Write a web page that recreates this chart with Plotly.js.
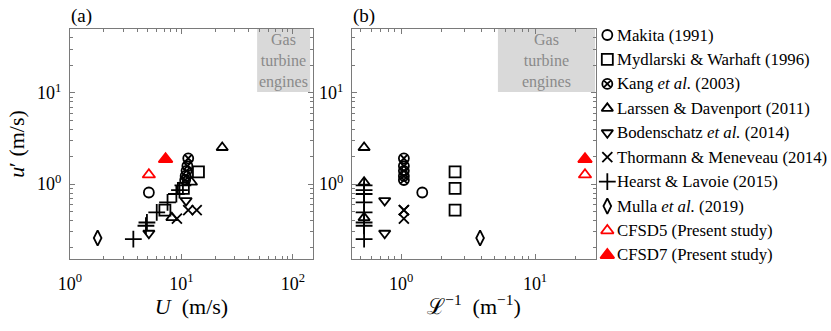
<!DOCTYPE html>
<html>
<head>
<meta charset="utf-8">
<script src="https://cdn.plot.ly/plotly-3.0.1.min.js"></script>
<style>
  html, body { margin: 0; padding: 0; background: #fff; }
  #chart { width: 831px; height: 331px; }
</style>
</head>
<body>
<div id="chart"></div>
<script>
// series labels, in legend order
const names = [
    "Makita (1991)",
    "Mydlarski &amp; Warhaft (1996)",
    "Kang <i>et al.</i> (2003)",
    "Larssen &amp; Davenport (2011)",
    "Bodenschatz <i>et al.</i> (2014)",
    "Thormann &amp; Meneveau (2014)",
    "Hearst &amp; Lavoie (2015)",
    "Mulla <i>et al.</i> (2019)",
    "CFSD5 (Present study)",
    "CFSD7 (Present study)"
];

// mean velocity U (m/s)
const U = [
    [5.1],
    [7.1, 10.4, 14.2],
    [11.5, 11.3, 11.1, 10.9, 10.8],
    [23.2, 12.3, 8.2],
    [5.1, 11.0],
    [9.1, 11.5, 13.7],
    [3.7, 4.8, 4.9, 6.0, 7.5, 9.0, 9.6, 10.3],
    [1.77],
    [5.1],
    [7.2]
];

// rms fluctuation u' (m/s)
const uPrime = [
    [0.81],
    [0.52, 0.90, 1.36],
    [1.92, 1.58, 1.40, 1.23, 1.11],
    [2.52, 1.05, 0.43],
    [0.29, 0.66],
    [0.42, 0.52, 0.52],
    [0.25, 0.35, 0.38, 0.49, 0.63, 0.78, 0.86, 0.97],
    [0.257],
    [1.27],
    [1.88]
];

// inverse integral length scale (1/m)
const Linv = [
    [1.44],
    [2.53, 2.53, 2.53],
    [1.05, 1.05, 1.05, 1.05, 1.05],
    [0.53, 0.53, 0.53],
    [0.755, 0.755],
    [1.05, 1.05, 1.05],
    [0.53, 0.53, 0.53, 0.53, 0.53, 0.53, 0.53, 0.53],
    [3.89],
    [23.6],
    [23.6]
];

const symbols = ["circle-open", "square-open", "circle-x-open", "triangle-up-open", "triangle-down-open",
                 "x-thin-open", "cross-thin-open", "diamond-tall-open", "triangle-up-open", "triangle-up"];
const colors = ["#000", "#000", "#000", "#000", "#000", "#000", "#000", "#000", "#ff0000", "#ff0000"];
const sizes = [10, 11, 10, 10, 10, 10, 12, 11, 11, 12];

const SERIF = "Liberation Serif, DejaVu Serif, serif";
const AXIS_GRAY = "#7a7a7a";

function markerFor(i) {
    return {
        symbol: symbols[i], color: colors[i], size: sizes[i],
        line: { color: colors[i], width: 1.8 }
    };
}

const traces = [];
names.forEach((name, i) => {
    traces.push({ x: U[i], y: uPrime[i], xaxis: "x", yaxis: "y", type: "scatter", mode: "markers",
                  name: name, marker: markerFor(i), hoverinfo: "x+y" });
    traces.push({ x: Linv[i], y: uPrime[i], xaxis: "x2", yaxis: "y2", type: "scatter", mode: "markers",
                  name: name, marker: markerFor(i), hoverinfo: "x+y" });
    // hand-built legend: one symbol per row on a hidden axis
    traces.push({ x: [0.04], y: [i], xaxis: "x3", yaxis: "y3", type: "scatter", mode: "markers",
                  name: name, marker: markerFor(i), hoverinfo: "skip" });
});

// minor ticks on log axes
const minorVals = [];
[0.1, 1, 10, 100].forEach(d => { for (let k = 2; k <= 9; k++) minorVals.push(d * k); });

function logAxis(extra) {
    return Object.assign({
        type: "log", showgrid: false, zeroline: false,
        showline: true, linecolor: AXIS_GRAY, linewidth: 1, mirror: "allticks",
        ticks: "inside", ticklen: 5, tickcolor: AXIS_GRAY,
        minor: { tickmode: "array", tickvals: minorVals, ticks: "inside", ticklen: 3, tickcolor: AXIS_GRAY },
        tickmode: "array",
        tickvals: [0.1, 1, 10, 100],
        ticktext: ["10<sup>-1</sup>", "10<sup>0</sup>", "10<sup>1</sup>", "10<sup>2</sup>"],
        tickfont: { family: SERIF, size: 18, color: "#000" },
        fixedrange: true
    }, extra);
}

const yDomain = [1 - 259 / 331, 1 - 29 / 331];

const layout = {
    width: 831, height: 331,
    margin: { l: 0, r: 0, t: 0, b: 0 },
    paper_bgcolor: "#fff", plot_bgcolor: "#fff",
    showlegend: false,
    font: { family: SERIF, color: "#000" },
    xaxis: logAxis({ domain: [70 / 831, 313 / 831], range: [0, 2.18], anchor: "y", ticklabelstandoff: 8,
                     title: { text: "<i>U</i>  (m/s)", font: { family: SERIF, size: 22 }, standoff: 6 } }),
    yaxis: logAxis({ domain: yDomain, range: [-0.82, 1.70], anchor: "x", ticklabelstandoff: 4,
                     title: { text: "<i>u</i>′ (m/s)", font: { family: SERIF, size: 22 }, standoff: 6 } }),
    xaxis2: logAxis({ domain: [352 / 831, 596 / 831], range: [-0.366, 1.455], anchor: "y2", ticklabelstandoff: 8,
                      title: { text: "ℒ<sup>−1</sup>  (m<sup>−1</sup>)", font: { family: SERIF, size: 22 }, standoff: 6 } }),
    yaxis2: logAxis({ domain: yDomain, range: [-0.82, 1.70], anchor: "x2", ticklabelstandoff: 4 }),
    xaxis3: { domain: [598 / 831, 1], range: [0, 1], anchor: "y3", visible: false, fixedrange: true },
    yaxis3: { domain: [0, 1], range: [12.11, -1.432], anchor: "x3", visible: false, fixedrange: true },
    shapes: [
        { type: "rect", xref: "x domain", yref: "y domain", x0: 0.77, x1: 0.988, y0: 0.726, y1: 1,
          fillcolor: "#d9d9d9", line: { width: 0 }, layer: "below" },
        { type: "rect", xref: "x2 domain", yref: "y2 domain", x0: 0.598, x1: 0.996, y0: 0.726, y1: 1,
          fillcolor: "#d9d9d9", line: { width: 0 }, layer: "below" }
    ],
    annotations: [
        { xref: "paper", yref: "paper", x: 69 / 831, y: 1 - 16 / 331, xanchor: "left", yanchor: "middle",
          text: "(a)", showarrow: false, font: { family: SERIF, size: 19, color: "#000" } },
        { xref: "paper", yref: "paper", x: 351 / 831, y: 1 - 16 / 331, xanchor: "left", yanchor: "middle",
          text: "(b)", showarrow: false, font: { family: SERIF, size: 19, color: "#000" } },
        { xref: "x domain", yref: "y domain", x: 0.879, y: 0.863, xanchor: "center", yanchor: "middle",
          text: "Gas<br>turbine<br>engines", showarrow: false, font: { family: SERIF, size: 16, color: "#8a8a8a" } },
        { xref: "x2 domain", yref: "y2 domain", x: 0.797, y: 0.863, xanchor: "center", yanchor: "middle",
          text: "Gas<br>turbine<br>engines", showarrow: false, font: { family: SERIF, size: 16, color: "#8a8a8a" } }
    ]
};

names.forEach((name, i) => {
    layout.annotations.push({
        xref: "x3", yref: "y3", x: 0.075, y: i, xanchor: "left", yanchor: "middle",
        text: name, showarrow: false, font: { family: SERIF, size: 16.8, color: "#000" }
    });
});

Plotly.newPlot("chart", traces, layout, { displayModeBar: false, staticPlot: true });
</script>
</body>
</html>
